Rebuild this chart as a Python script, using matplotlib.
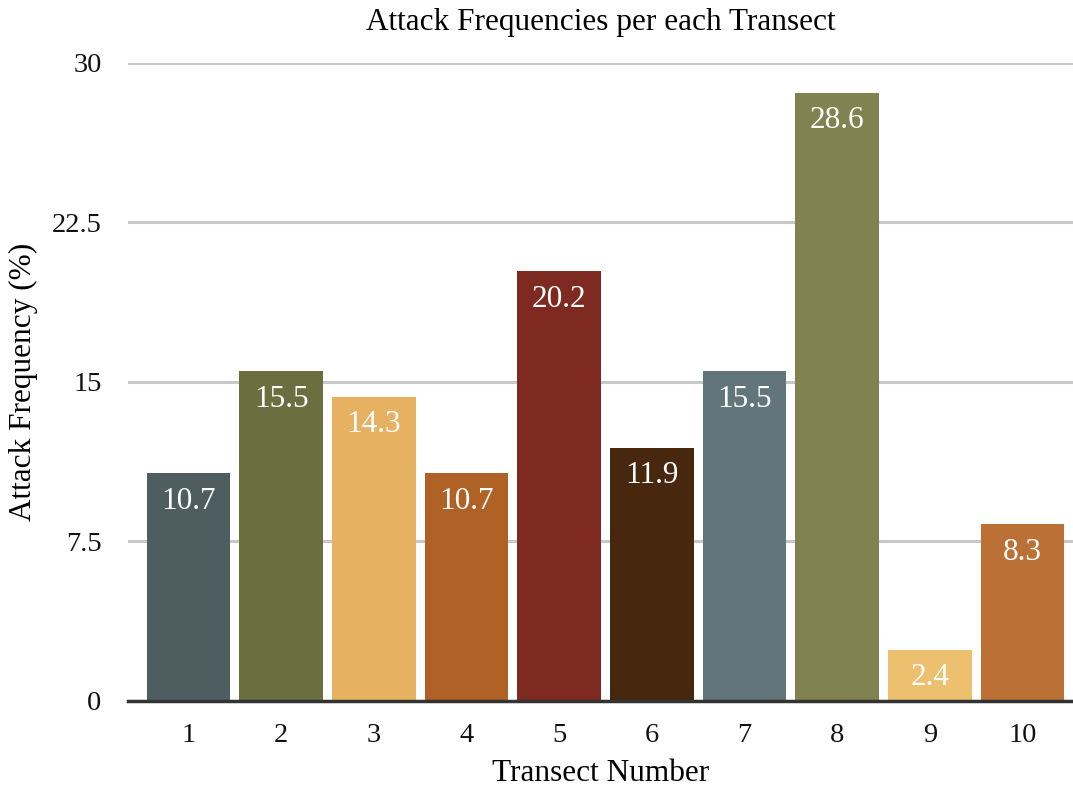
import matplotlib
matplotlib.use("Agg")
import matplotlib.pyplot as plt

# Attack frequency per transect
transects = ["1", "2", "3", "4", "5", "6", "7", "8", "9", "10"]
frequencies = [10.7, 15.5, 14.3, 10.7, 20.2, 11.9, 15.5, 28.6, 2.4, 8.3]
bar_colors = ["#4d5d60", "#6b6e3f", "#e6b262", "#b06126", "#7e2a20",
              "#47270d", "#62757a", "#80834f", "#ecc06e", "#bb7035"]
y_ticks = [0, 7.5, 15, 22.5, 30]
y_tick_labels = ["0", "7.5", "15", "22.5", "30"]

plt.rcParams["font.family"] = ["Liberation Serif", "DejaVu Serif"]

fig = plt.figure(figsize=(10.73, 7.91), dpi=100)
ax = fig.add_axes([0.1193, 0.1138, 0.8807, 0.8066])

x = list(range(1, len(transects) + 1))
bars = ax.bar(x, frequencies, width=0.9, color=bar_colors, zorder=2)

for rect, val in zip(bars, frequencies):
    ax.annotate(f"{val}", xy=(rect.get_x() + rect.get_width() / 2, rect.get_height()),
                xytext=(0, -20), textcoords="offset points",
                ha="center", va="center", color="white", fontsize=22.5)

ax.set_ylim(0, 30)
ax.set_xlim(1 - 0.653, 10 + 0.545)
ax.set_yticks(y_ticks)
ax.set_yticklabels(y_tick_labels)
ax.set_xticks(x)
ax.set_xticklabels(transects)
ax.tick_params(axis="both", length=0, labelsize=20.5, colors="#111111")
ax.tick_params(axis="y", pad=19)
ax.tick_params(axis="x", pad=16)

ax.yaxis.grid(True, color="#c8c8c8", linewidth=2.2, zorder=0)
ax.set_axisbelow(True)
for side in ["top", "right", "left"]:
    ax.spines[side].set_visible(False)
ax.spines["bottom"].set_color("#333333")
ax.spines["bottom"].set_linewidth(2.5)
ax.spines["bottom"].set_zorder(3)

ax.set_title("Attack Frequencies per each Transect", fontsize=22.5, pad=24)
ax.set_xlabel("Transect Number", fontsize=22.5, labelpad=8)
ax.set_ylabel("Attack Frequency (%)", fontsize=22.5, labelpad=10)

fig.savefig("out.png", dpi=100)
